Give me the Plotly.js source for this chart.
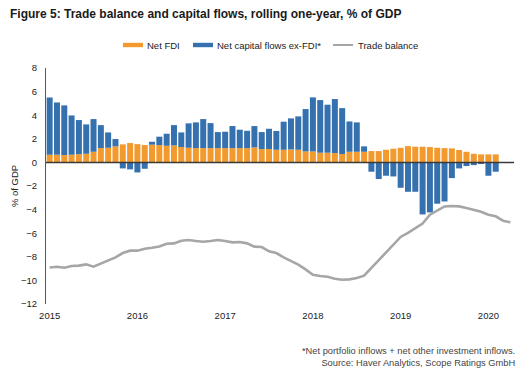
<!DOCTYPE html>
<html>
<head>
<meta charset="utf-8">
<script src="https://cdn.plot.ly/plotly-3.0.1.min.js"></script>
<style>
html,body{margin:0;padding:0;background:#fff;}
#chart{width:528px;height:387px;}
</style>
</head>
<body>
<div id="chart"></div>
<script>
// Monthly categories Jan 2015 .. Apr 2020
var months = [];
for (var y = 2015; y <= 2020; y++) {
  for (var m = 1; m <= 12; m++) {
    if (y === 2020 && m > 4) break;
    months.push(y + '-' + (m < 10 ? '0' + m : m));
  }
}
var tickVals = ['2015-01','2016-01','2017-01','2018-01','2019-01','2020-01'];
var tickText = ['2015','2016','2017','2018','2019','2020'];

var netFDI = [0.65,0.65,0.62,0.65,0.70,0.73,0.90,1.21,1.24,1.36,
  1.53,1.64,1.55,1.47,1.50,1.47,1.41,1.44,1.30,1.24,
  1.21,1.21,1.21,1.21,1.21,1.21,1.21,1.21,1.27,1.13,
  1.13,1.07,1.07,1.10,1.07,0.93,0.93,0.82,0.82,0.79,
  0.71,0.90,0.90,0.90,0.96,0.96,1.07,1.16,1.24,1.38,
  1.33,1.33,1.30,1.24,1.21,1.19,1.05,0.90,0.73,0.68,
  0.68,0.68];

var netCapExFDI = [4.85,4.43,4.21,3.33,2.89,2.49,2.77,1.95,1.30,0.62,
  -0.51,-0.59,-0.85,-0.54,0.25,0.71,1.02,1.72,1.24,2.07,
  2.18,2.46,2.12,1.36,1.39,1.87,1.56,1.47,1.81,1.44,
  1.72,1.59,2.38,2.63,2.83,3.59,4.58,4.46,4.07,4.58,
  3.89,2.57,2.49,0.46,-0.79,-1.41,-1.13,-1.19,-2.15,-2.49,
  -2.49,-4.41,-4.24,-3.50,-3.31,-1.33,-0.51,-0.31,-0.23,-0.14,
  -1.13,-0.79];

var tradeBalance = [-8.90,-8.84,-8.93,-8.78,-8.75,-8.64,-8.84,-8.59,-8.30,-8.05,
  -7.68,-7.48,-7.48,-7.31,-7.23,-7.12,-6.89,-6.86,-6.64,-6.58,
  -6.66,-6.72,-6.66,-6.58,-6.66,-6.78,-6.75,-6.86,-7.14,-7.17,
  -7.54,-7.68,-8.05,-8.36,-8.67,-9.07,-9.52,-9.63,-9.69,-9.86,
  -9.94,-9.91,-9.80,-9.60,-8.95,-8.27,-7.68,-7.00,-6.32,-5.98,
  -5.62,-5.19,-4.43,-4.09,-3.73,-3.70,-3.73,-3.87,-4.01,-4.18,
  -4.43,-4.57,-4.94,-5.08];

var seriesNames = ['Net FDI', 'Net capital flows ex-FDI*', 'Trade balance'];
var colors = ['#F39A2E', '#3571AE', '#A6A6A6'];

var FONT = 'Liberation Sans, Arial, sans-serif';

var traces = [
  {type:'bar', name:seriesNames[0], x:months.slice(0, netFDI.length), y:netFDI,
   marker:{color:colors[0]}, hoverinfo:'x+y'},
  {type:'bar', name:seriesNames[1], x:months.slice(0, netCapExFDI.length), y:netCapExFDI,
   marker:{color:colors[1]}, hoverinfo:'x+y'},
  {type:'scatter', mode:'lines', name:seriesNames[2], x:months, y:tradeBalance,
   line:{color:colors[2], width:2.6}, hoverinfo:'x+y'}
];

// plot area geometry (px) for custom legend
var L = 46, R = 514, T = 68, B = 304;
function px2x(p){ return (p - L) / (R - L); }
function py2y(p){ return (B - p) / (B - T); }

var legY = 45;
var shapes = [
  {type:'line', xref:'paper', yref:'y', x0:0, x1:1, y0:0, y1:0,
   line:{color:'#3a3a3a', width:1.5}, layer:'above'},
  {type:'rect', xref:'paper', yref:'paper', x0:px2x(123), x1:px2x(143), y0:py2y(legY+2.2), y1:py2y(legY-2.2),
   fillcolor:colors[0], line:{width:0}},
  {type:'rect', xref:'paper', yref:'paper', x0:px2x(193), x1:px2x(213), y0:py2y(legY+2.2), y1:py2y(legY-2.2),
   fillcolor:colors[1], line:{width:0}},
  {type:'line', xref:'paper', yref:'paper', x0:px2x(333), x1:px2x(353), y0:py2y(legY), y1:py2y(legY),
   line:{color:colors[2], width:2}}
];

var annotations = [
  {text:seriesNames[0], xref:'paper', yref:'paper', x:px2x(144.5), y:py2y(legY), xanchor:'left', yanchor:'middle',
   showarrow:false, font:{family:FONT, size:9.5, color:'#222'}},
  {text:seriesNames[1], xref:'paper', yref:'paper', x:px2x(214.5), y:py2y(legY), xanchor:'left', yanchor:'middle',
   showarrow:false, font:{family:FONT, size:9.5, color:'#222'}},
  {text:seriesNames[2], xref:'paper', yref:'paper', x:px2x(355.5), y:py2y(legY), xanchor:'left', yanchor:'middle',
   showarrow:false, font:{family:FONT, size:9.5, color:'#222'}},
  {text:'*Net portfolio inflows + net other investment inflows.<br>Source: Haver Analytics, Scope Ratings GmbH',
   xref:'paper', yref:'paper', x:px2x(517), y:py2y(357), xanchor:'right', yanchor:'middle', align:'right',
   showarrow:false, font:{family:FONT, size:9.3, color:'#444'}}
];

var layout = {
  width:528, height:387,
  margin:{l:L, r:528-R, t:T, b:387-B, pad:0},
  paper_bgcolor:'#fff', plot_bgcolor:'#fff',
  font:{family:FONT, size:9.5, color:'#222'},
  title:{text:'<b>Figure 5: Trade balance and capital flows, rolling one-year, % of GDP</b>',
         xref:'container', yref:'container', x:10/528, xanchor:'left', y:1-14/387, yanchor:'middle',
         font:{family:FONT, size:12, color:'#1a1a1a'}},
  barmode:'relative', bargap:0.18,
  showlegend:false,
  xaxis:{type:'category', categoryorder:'array', categoryarray:months,
         range:[-0.5, months.length - 0.5], tickvals:tickVals, ticktext:tickText,
         showgrid:false, zeroline:false, showline:false, ticks:'',
         ticklabelstandoff:4, tickfont:{family:FONT, size:9.5, color:'#222'}},
  yaxis:{range:[-12, 8], dtick:2, tick0:0, showgrid:false, zeroline:false,
         showline:true, linecolor:'#595959', linewidth:1, ticks:'',
         ticklabelstandoff:6, tickfont:{family:FONT, size:9.5, color:'#222'},
         title:{text:'% of GDP', standoff:0, font:{family:FONT, size:9.5, color:'#222'}}},
  shapes:shapes,
  annotations:annotations
};

Plotly.newPlot('chart', traces, layout, {displayModeBar:false, staticPlot:true});
</script>
</body>
</html>
